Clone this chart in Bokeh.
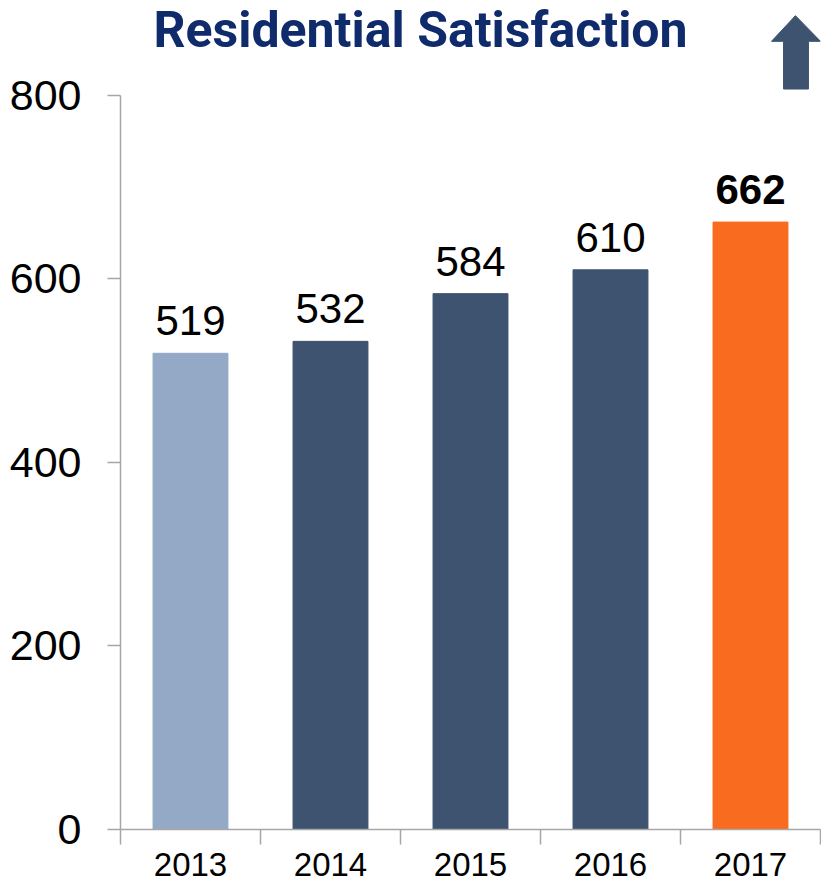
from bokeh.plotting import figure
from bokeh.models import Range1d, FixedTicker, ColumnDataSource
from bokeh.core.properties import value
from bokeh.embed import file_html
from bokeh.resources import INLINE

years = [2013, 2014, 2015, 2016, 2017]
scores = [519, 532, 584, 610, 662]
bar_colors = ["#94a9c5", "#3d536f", "#3d536f", "#3d536f", "#f96b1e"]
label_styles = ["normal", "normal", "normal", "normal", "bold"]
y_ticks = [0, 200, 400, 600, 800]
title_text = "Residential Satisfaction"

src = ColumnDataSource(dict(year=years, score=scores, color=bar_colors,
                            label=[str(s) for s in scores], style=label_styles))

p = figure(width=821, height=883, output_backend="svg", toolbar_location=None,
           x_range=Range1d(2012.5, 2017.5), y_range=Range1d(0, 903.5),
           min_border_left=120, min_border_right=1, min_border_top=0,
           min_border_bottom=54)
p.outline_line_color = None
p.xgrid.visible = False
p.ygrid.visible = False
p.background_fill_color = "white"
p.border_fill_color = "white"

p.vbar(x="year", top="score", width=0.535, color="color", source=src)

p.text(x="year", y="score", text="label", source=src, text_align="center",
       text_baseline="bottom", y_offset=-18, text_font=value("Liberation Sans"),
       text_font_size="42px", text_color="black", text_font_style="style")

# Title
p.text(x=[2014.643], y=[903.5], text=[title_text], text_align="center",
       text_baseline="top", y_offset=0, text_font=value("Roboto"),
       text_font_size="50px", text_font_style="bold", text_color="#0f2b6c")

# Up arrow decoration (top right)
p.patch(x=[2017.236, 2017.236, 2017.15, 2017.321, 2017.5, 2017.414, 2017.414],
        y=[807, 859, 859, 887, 859, 859, 807], color="#3d536f")

ax = p.xaxis[0]
ax.ticker = FixedTicker(ticks=years, minor_ticks=[y - 0.5 for y in years] + [2017.5])
ax.major_tick_out = 0
ax.major_tick_in = 0
ax.minor_tick_out = 15
ax.minor_tick_in = 0
ax.minor_tick_line_color = "#a6a6a6"
ax.axis_line_color = "#a6a6a6"
ax.axis_line_width = 1.5
ax.minor_tick_line_width = 1.5
ax.major_label_standoff = 8
ax.major_label_text_font = "Liberation Sans"
ax.major_label_text_font_size = "33px"
ax.major_label_text_color = "black"

ay = p.yaxis[0]
ay.ticker = FixedTicker(ticks=y_ticks, minor_ticks=[])
ay.bounds = (0, 800)
ay.major_tick_out = 13
ay.major_tick_in = 0
ay.minor_tick_out = 0
ay.major_tick_line_color = "#a6a6a6"
ay.major_tick_line_width = 1.5
ay.axis_line_color = "#a6a6a6"
ay.axis_line_width = 1.5
ay.major_label_standoff = 26
ay.major_label_text_font = "Liberation Sans"
ay.major_label_text_font_size = "43px"
ay.major_label_text_color = "black"

open("out.html", "w").write(file_html(p, INLINE))
